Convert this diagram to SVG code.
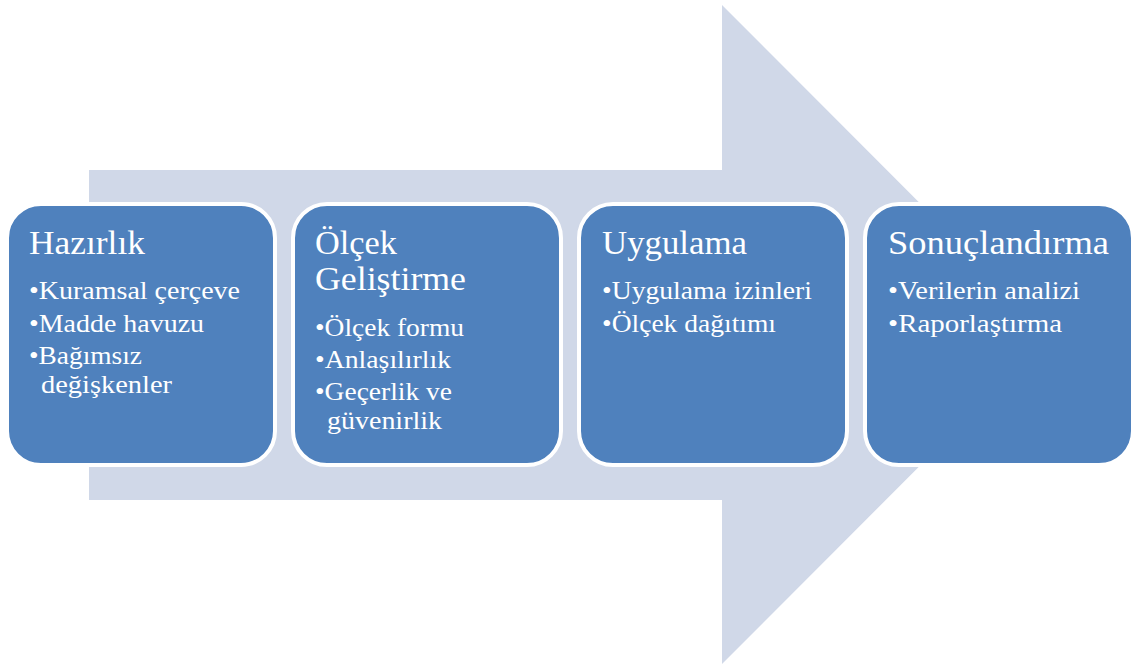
<svg xmlns="http://www.w3.org/2000/svg" width="1134" height="669" viewBox="0 0 1134 669">
  <style>
    .arrow { fill: #D0D8E8; }
    .box { fill: #4F81BD; stroke: #FFFFFF; stroke-width: 4; }
    .title { font-family: "Liberation Serif", "DejaVu Serif", serif; font-size: 34px; fill: #FFFFFF; }
    .item { font-family: "Liberation Serif", "DejaVu Serif", serif; font-size: 25px; fill: #FFFFFF; }
  </style>
  <rect width="1134" height="669" fill="#FFFFFF"/>
  <!-- large background arrow -->
  <polygon class="arrow" points="89,170 722,170 722,5 1051,334.5 722,664 722,500 89,500"/>

  <g id="node-hazirlik">
    <rect class="box" x="7" y="204" width="268" height="261" rx="34" ry="34"/>
    <text class="title" x="29" y="254" textLength="116" lengthAdjust="spacingAndGlyphs">Hazırlık</text>
    <text class="item" x="29" y="299" textLength="211" lengthAdjust="spacingAndGlyphs">•Kuramsal çerçeve</text>
    <text class="item" x="29" y="332" textLength="175" lengthAdjust="spacingAndGlyphs">•Madde havuzu</text>
    <text class="item" x="29" y="364" textLength="113" lengthAdjust="spacingAndGlyphs">•Bağımsız</text>
    <text class="item" x="41" y="393" textLength="131" lengthAdjust="spacingAndGlyphs">değişkenler</text>
  </g>

  <g id="node-olcek-gelistirme">
    <rect class="box" x="293" y="204" width="268" height="261" rx="34" ry="34"/>
    <text class="title" x="315" y="254" textLength="82" lengthAdjust="spacingAndGlyphs">Ölçek</text>
    <text class="title" x="315" y="290" textLength="151" lengthAdjust="spacingAndGlyphs">Geliştirme</text>
    <text class="item" x="315" y="336" textLength="149" lengthAdjust="spacingAndGlyphs">•Ölçek formu</text>
    <text class="item" x="315" y="368" textLength="136" lengthAdjust="spacingAndGlyphs">•Anlaşılırlık</text>
    <text class="item" x="315" y="400" textLength="137" lengthAdjust="spacingAndGlyphs">•Geçerlik ve</text>
    <text class="item" x="327" y="429" textLength="115" lengthAdjust="spacingAndGlyphs">güvenirlik</text>
  </g>

  <g id="node-uygulama">
    <rect class="box" x="579" y="204" width="268" height="261" rx="34" ry="34"/>
    <text class="title" x="602" y="254" textLength="145" lengthAdjust="spacingAndGlyphs">Uygulama</text>
    <text class="item" x="602" y="299" textLength="210" lengthAdjust="spacingAndGlyphs">•Uygulama izinleri</text>
    <text class="item" x="602" y="332" textLength="174" lengthAdjust="spacingAndGlyphs">•Ölçek dağıtımı</text>
  </g>

  <g id="node-sonuclandirma">
    <rect class="box" x="865" y="204" width="268" height="261" rx="34" ry="34"/>
    <text class="title" x="888" y="254" textLength="221" lengthAdjust="spacingAndGlyphs">Sonuçlandırma</text>
    <text class="item" x="888" y="299" textLength="192" lengthAdjust="spacingAndGlyphs">•Verilerin analizi</text>
    <text class="item" x="888" y="332" textLength="174" lengthAdjust="spacingAndGlyphs">•Raporlaştırma</text>
  </g>

  <g id="connectors"></g>
</svg>
